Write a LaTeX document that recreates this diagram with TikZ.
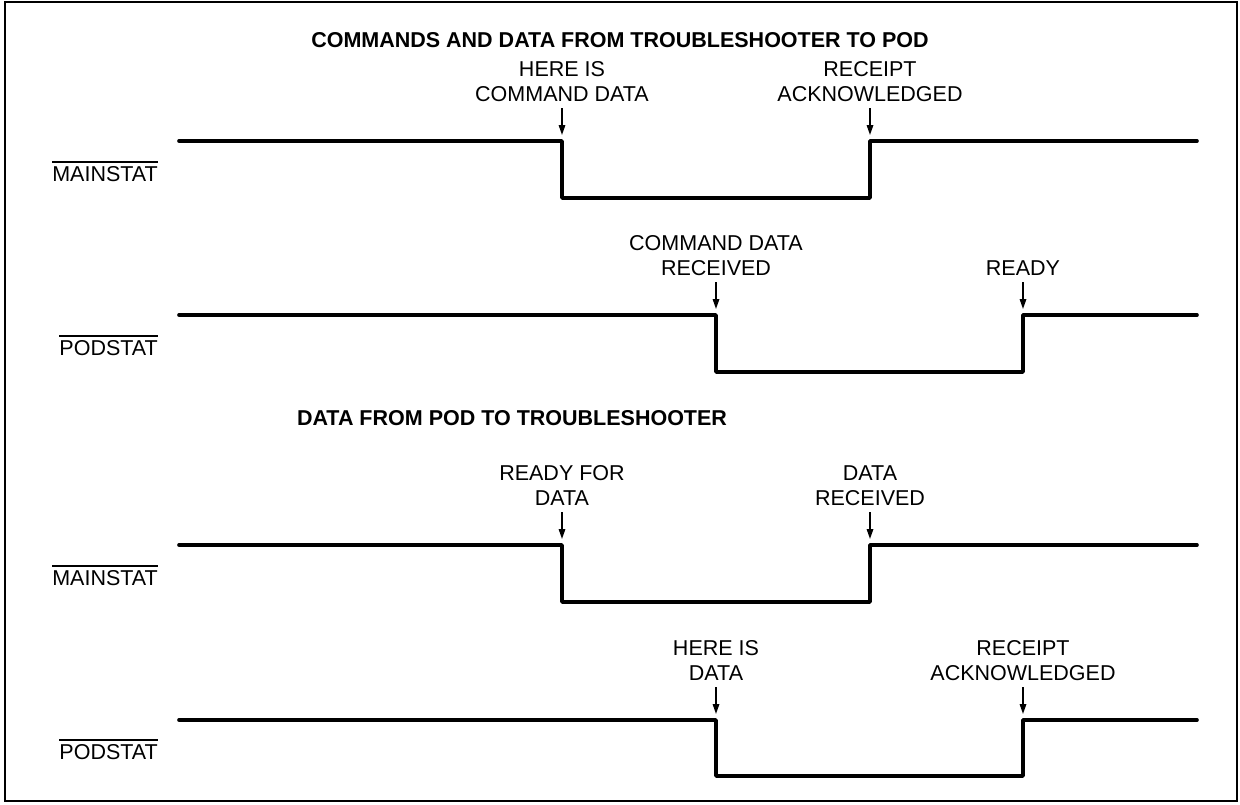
\documentclass[tikz,border=0pt]{standalone}
\usepackage{fontspec}
\setmainfont{Liberation Sans}
\usetikzlibrary{arrows.meta}
\begin{document}
\begin{tikzpicture}[x=1pt,y=-1pt,
  sig/.style={line width=3.6pt, line join=round, line cap=round},
  tick/.style={line width=1.6pt, -{Triangle[length=10pt,width=6.5pt]}},
  evt/.style={anchor=south, align=center, inner sep=0pt, text depth=0pt,
              font=\fontsize{21.5}{25.7}\selectfont},
  title/.style={anchor=base, inner sep=0pt, font=\fontsize{21.5}{25.7}\selectfont\bfseries},
  signame/.style={anchor=base east, inner sep=0pt, font=\fontsize{21.5}{25.7}\selectfont},
  bar/.style={line width=1.5pt},
  frame/.style={line width=1.6pt}]

\useasboundingbox (0,0) rectangle (1240,804);
\draw[frame] (5,2) rectangle (1237,801);

% ---------- commands and data from troubleshooter to pod ----------
\node[title] (t1) at (620,47) {COMMANDS AND DATA FROM TROUBLESHOOTER TO POD};

% MAINSTAT
\coordinate (m1s) at (179,141);
\coordinate (m1f) at (562,141);
\coordinate (m1r) at (870,141);
\coordinate (m1e) at (1197,141);
\draw[sig] (m1s) -- (m1f) -- ++(0,57) -| (m1r) -- (m1e);
\node[signame] (n1) at (158,181) {MAINSTAT};
\draw[bar] ([yshift=4pt]n1.north west) -- ([yshift=4pt]n1.north east);
\node[evt] (m1fl) at (562,102) {HERE IS\\COMMAND DATA};
\node[evt] (m1rl) at (870,102) {RECEIPT\\ACKNOWLEDGED};
\draw[tick] ([yshift=-6pt]m1fl.south) -- ([yshift=6pt]m1f);
\draw[tick] ([yshift=-6pt]m1rl.south) -- ([yshift=6pt]m1r);

% PODSTAT
\coordinate (p1s) at (179,315);
\coordinate (p1f) at (716,315);
\coordinate (p1r) at (1023,315);
\coordinate (p1e) at (1197,315);
\draw[sig] (p1s) -- (p1f) -- ++(0,57) -| (p1r) -- (p1e);
\node[signame] (n2) at (158,355) {PODSTAT};
\draw[bar] ([yshift=4pt]n2.north west) -- ([yshift=4pt]n2.north east);
\node[evt] (p1fl) at (716,276) {COMMAND DATA\\RECEIVED};
\node[evt] (p1rl) at (1023,276) {READY};
\draw[tick] ([yshift=-6pt]p1fl.south) -- ([yshift=6pt]p1f);
\draw[tick] ([yshift=-6pt]p1rl.south) -- ([yshift=6pt]p1r);

% ---------- data from pod to troubleshooter ----------
\node[title] (t2) at (512,425) {DATA FROM POD TO TROUBLESHOOTER};

% MAINSTAT
\coordinate (m2s) at (179,545);
\coordinate (m2f) at (562,545);
\coordinate (m2r) at (870,545);
\coordinate (m2e) at (1197,545);
\draw[sig] (m2s) -- (m2f) -- ++(0,57) -| (m2r) -- (m2e);
\node[signame] (n3) at (158,585) {MAINSTAT};
\draw[bar] ([yshift=4pt]n3.north west) -- ([yshift=4pt]n3.north east);
\node[evt] (m2fl) at (562,506) {READY FOR\\DATA};
\node[evt] (m2rl) at (870,506) {DATA\\RECEIVED};
\draw[tick] ([yshift=-6pt]m2fl.south) -- ([yshift=6pt]m2f);
\draw[tick] ([yshift=-6pt]m2rl.south) -- ([yshift=6pt]m2r);

% PODSTAT
\coordinate (p2s) at (179,720);
\coordinate (p2f) at (716,720);
\coordinate (p2r) at (1023,720);
\coordinate (p2e) at (1197,720);
\draw[sig] (p2s) -- (p2f) -- ++(0,56) -| (p2r) -- (p2e);
\node[signame] (n4) at (158,759) {PODSTAT};
\draw[bar] ([yshift=4pt]n4.north west) -- ([yshift=4pt]n4.north east);
\node[evt] (p2fl) at (716,681) {HERE IS\\DATA};
\node[evt] (p2rl) at (1023,681) {RECEIPT\\ACKNOWLEDGED};
\draw[tick] ([yshift=-6pt]p2fl.south) -- ([yshift=6pt]p2f);
\draw[tick] ([yshift=-6pt]p2rl.south) -- ([yshift=6pt]p2r);

\end{tikzpicture}
\end{document}
